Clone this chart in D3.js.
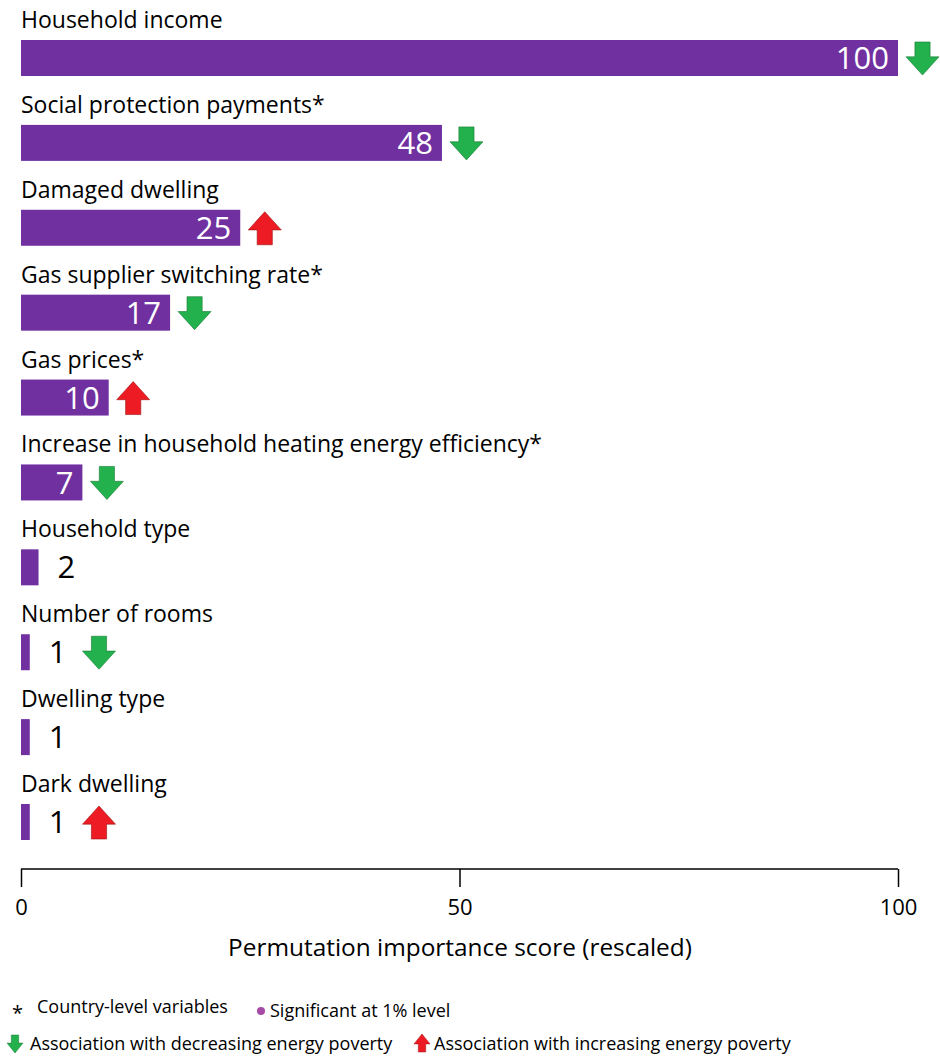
<!DOCTYPE html>
<html><head><meta charset="utf-8">
<script src="https://cdn.jsdelivr.net/npm/d3@7"></script>
<style>body{margin:0;background:#fff}svg{display:block}text{font-family:"Open Sans",sans-serif}</style>
</head><body>
<script>
const categories = ["Household income","Social protection payments*","Damaged dwelling","Gas supplier switching rate*","Gas prices*","Increase in household heating energy efficiency*","Household type","Number of rooms","Dwelling type","Dark dwelling"];
const scores = [100,48,25,17,10,7,2,1,1,1];
const directions = ["down","down","up","down","up","down",null,"down",null,"up"];
const xTicks = [0,50,100];
const axisTitle = "Permutation importance score (rescaled)";
const legendTop = [["*","Country-level variables"],["dot","Significant at 1% level"]];
const legendBottom = [["down","Association with decreasing energy poverty"],["up","Association with increasing energy poverty"]];

const W=940,H=1057;
const PURPLE="#7030A0", GREEN="#22B14C", RED="#ED1C24";
const svg=d3.select("body").append("svg").attr("width",W).attr("height",H);
const x=d3.scaleLinear().domain([0,100]).range([21,898]);
const y=d3.scaleBand().domain(categories).range([40,840]).paddingInner(0.576).paddingOuter(0).align(0);
const bh=y.bandwidth();

function arrowPath(x0,y0,w,h,dir){
  const sw=w*0.46, sh=h*0.45, cx=x0+w/2;
  if(dir==="down"){
    return `M${cx-sw/2},${y0}H${cx+sw/2}V${y0+sh}H${x0+w}L${cx},${y0+h}L${x0},${y0+sh}H${cx-sw/2}Z`;
  } else {
    return `M${cx-sw/2},${y0+h}H${cx+sw/2}V${y0+h-sh}H${x0+w}L${cx},${y0}L${x0},${y0+h-sh}H${cx-sw/2}Z`;
  }
}

const rows=svg.append("g").selectAll("g").data(categories).join("g");
rows.append("text").attr("x",21).attr("y",d=>y(d)-12).attr("font-size",23).attr("fill","#000").text(d=>d);
rows.append("rect").attr("x",x(0)).attr("y",d=>y(d)).attr("width",(d,i)=>x(scores[i])-x(0)).attr("height",bh).attr("fill",PURPLE);
rows.each(function(d,i){
  const g=d3.select(this), v=scores[i], inside=v>=5;
  const t=g.append("text").attr("font-size",31).attr("y",y(d)+bh/2).attr("dy","0.36em").text(v);
  let end;
  if(inside){
    t.attr("x",x(v)-9).attr("text-anchor","end").attr("fill","#fff");
    end=x(v)+8;
  } else {
    t.attr("x",x(v)+19).attr("text-anchor","start").attr("fill","#000");
    end=x(v)+19+t.node().getComputedTextLength()+16;
  }
  const dir=directions[i];
  if(dir){
    g.append("path").attr("d",arrowPath(end,y(d)+2,33,33,dir))
      .attr("fill",dir==="down"?GREEN:RED).attr("stroke",dir==="down"?"#1a7a34":"#a01010").attr("stroke-width",0.6);
  }
});

const ax=svg.append("g").attr("transform","translate(0,869)")
  .call(d3.axisBottom(x).tickValues(xTicks).tickSize(18).tickFormat(d3.format("d")));
ax.select(".domain").attr("stroke","#000").attr("stroke-width",1.5).attr("d",`M${x(0)},0H${x(100)}`);
ax.selectAll(".tick line").attr("stroke","#000").attr("stroke-width",1.5);
ax.selectAll(".tick text").attr("font-size",22).attr("font-family","Open Sans").attr("fill","#000").attr("y",30);
svg.append("text").attr("x",460).attr("y",956).attr("text-anchor","middle").attr("font-size",24.4).text(axisTitle);

// legend
const l1=svg.append("g");
l1.append("text").attr("x",12).attr("y",1020).attr("font-size",20).text("*");
l1.append("text").attr("x",37).attr("y",1013).attr("font-size",18).text(legendTop[0][1]);
l1.append("circle").attr("cx",261).attr("cy",1011).attr("r",4).attr("fill","#A64CA6");
l1.append("text").attr("x",270).attr("y",1017).attr("font-size",18).text(legendTop[1][1]);
const l2=svg.append("g");
l2.append("path").attr("d",arrowPath(7,1035,16,18,"down")).attr("fill",GREEN).attr("stroke","#1a7a34").attr("stroke-width",0.5);
l2.append("text").attr("x",30).attr("y",1050).attr("font-size",18).text(legendBottom[0][1]);
l2.append("path").attr("d",arrowPath(414,1034,16,18,"up")).attr("fill",RED).attr("stroke","#a01010").attr("stroke-width",0.5);
l2.append("text").attr("x",434).attr("y",1050).attr("font-size",18).text(legendBottom[1][1]);
</script>
</body></html>
